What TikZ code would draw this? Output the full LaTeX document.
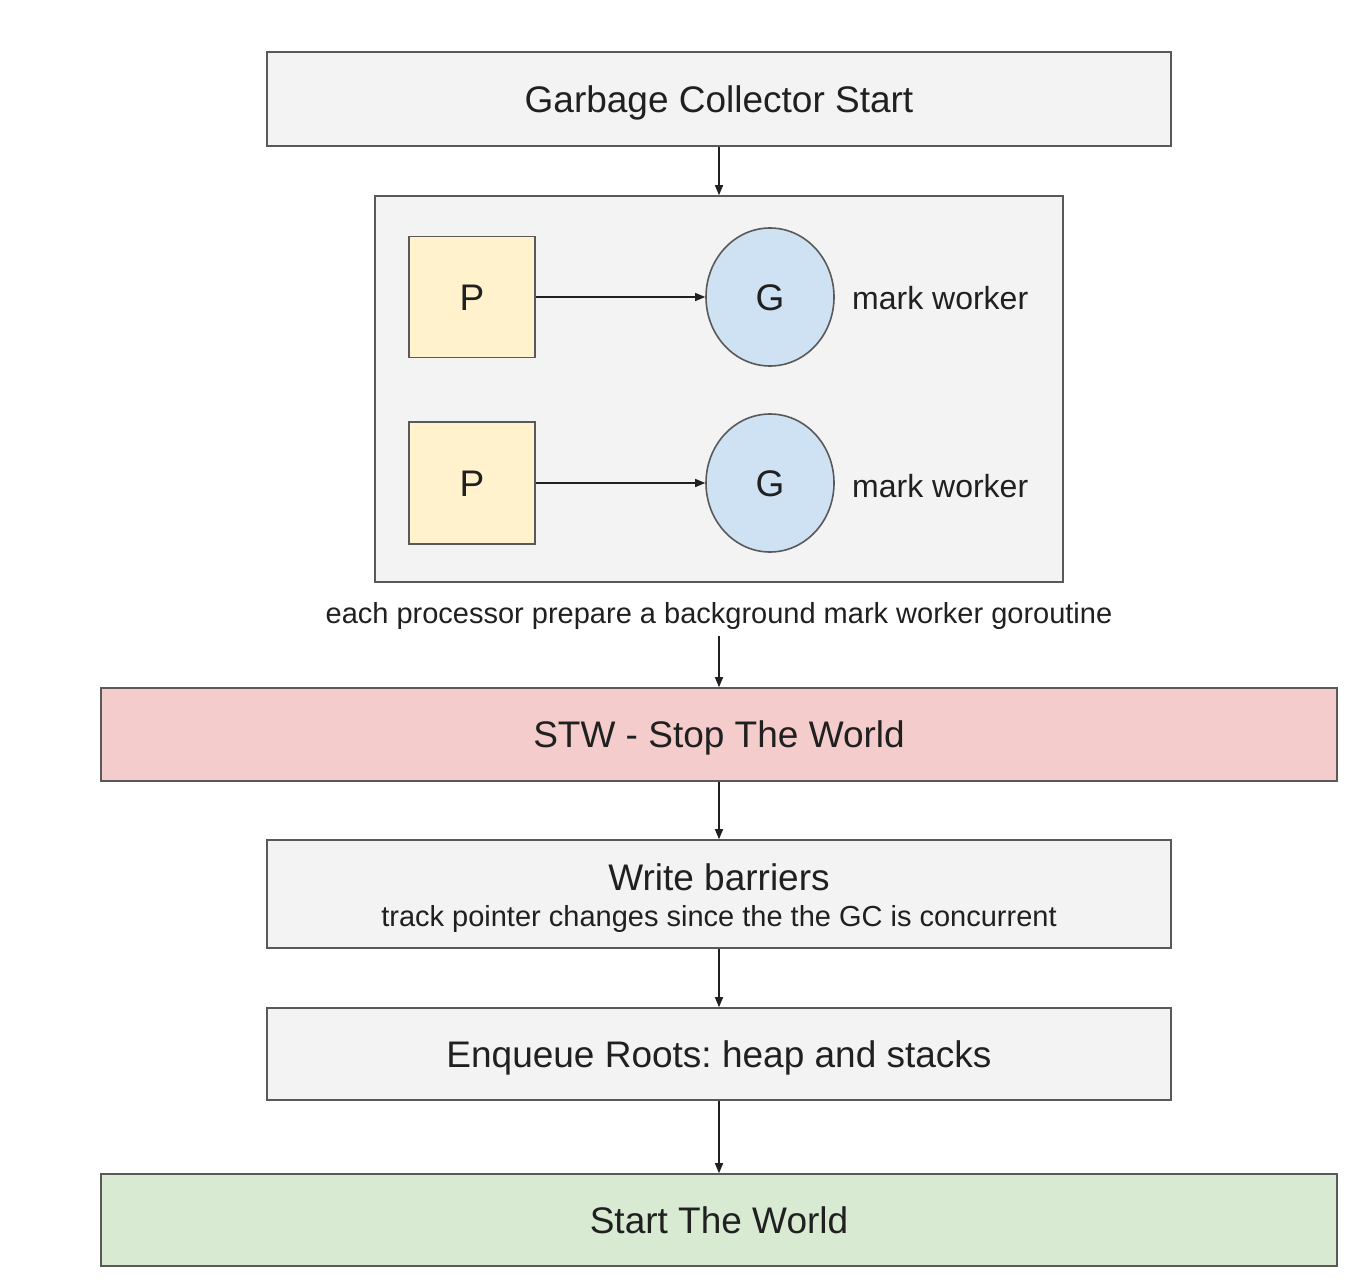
\documentclass[tikz,border=0pt]{standalone}
\usepackage{fontspec}
\setmainfont{Liberation Sans}
\usetikzlibrary{arrows.meta,shapes.geometric}
\frenchspacing
\definecolor{boxfill}{HTML}{F3F3F3}
\definecolor{boxline}{HTML}{595959}
\definecolor{pfill}{HTML}{FFF2CC}
\definecolor{gfill}{HTML}{CFE2F3}
\definecolor{redfill}{HTML}{F4CCCC}
\definecolor{greenfill}{HTML}{D9EAD3}
\definecolor{txt}{HTML}{202020}
\tikzset{
  box/.style={draw=boxline, line width=1.6pt, fill=boxfill, inner sep=0pt, anchor=center, text=txt},
  big/.style={font=\fontsize{37}{44}\selectfont, text height=26.5pt, text depth=0pt},
  small/.style={font=\fontsize{29}{34}\selectfont, text height=20.8pt, text depth=0pt},
  mid/.style={font=\fontsize{32}{38}\selectfont, text height=22.9pt, text depth=0pt},
  conn/.style={draw=txt, line width=1.3pt, -{Triangle[length=10pt,width=8pt]}},
  lbl/.style={inner sep=0pt, text=txt}
}
\begin{document}
\begin{tikzpicture}[x=1pt,y=-1pt]
\useasboundingbox[fill=white] (0,0) rectangle (1356,1284);
% top box
\node[box,big,minimum width=904pt,minimum height=94pt] (start) at (719,99) {Garbage Collector Start};
% container
\node[box,minimum width=688pt,minimum height=386pt] (cont) at (719,389) {};
\node[box,big,fill=pfill,minimum width=126pt,minimum height=121pt] (p1) at (472,297) {P};
\node[box,big,fill=pfill,minimum width=126pt,minimum height=122pt] (p2) at (472,483) {P};
\node[box,big,ellipse,fill=gfill,minimum width=128pt,minimum height=138pt] (g1) at (770,297) {G};
\node[box,big,ellipse,fill=gfill,minimum width=128pt,minimum height=138pt] (g2) at (770,483) {G};
\node[lbl,mid,anchor=west] (mw1) at (852,298) {mark worker};
\node[lbl,mid,anchor=west] (mw2) at (852,486) {mark worker};
\node[lbl,small,minimum height=46pt] (cap) at (719,613) {each processor prepare a background mark worker goroutine};
% lower boxes
\node[box,big,fill=redfill,minimum width=1236pt,minimum height=93pt] (stw) at (719,734.5) {STW - Stop The World};
\node[box,minimum width=904pt,minimum height=108pt] (wb) at (719,894) {};
\node[lbl,big] (wbt) at (719,877) {Write barriers};
\node[lbl,small] (wbs) at (719,916) {track pointer changes since the the GC is concurrent};
\node[box,big,minimum width=904pt,minimum height=92pt] (enq) at (719,1054) {Enqueue Roots: heap and stacks};
\node[box,big,fill=greenfill,minimum width=1236pt,minimum height=92pt] (stw2) at (719,1220) {Start The World};
% connectors
\draw[conn] (start.south) -- (cont.north);
\draw[conn] (p1.east) -- (g1.west);
\draw[conn] (p2.east) -- (g2.west);
\draw[conn] (cap.south) -- (stw.north);
\draw[conn] (stw.south) -- (wb.north);
\draw[conn] (wb.south) -- (enq.north);
\draw[conn] (enq.south) -- (stw2.north);
\end{tikzpicture}
\end{document}
